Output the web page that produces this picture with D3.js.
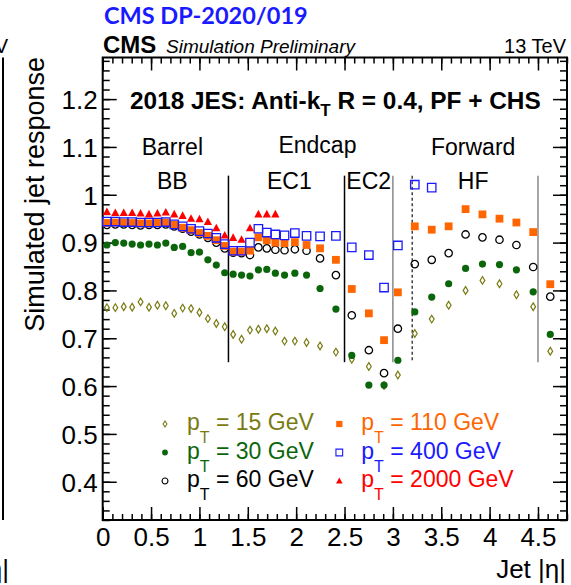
<!DOCTYPE html>
<html>
<head>
<meta charset="utf-8">
<script src="https://cdnjs.cloudflare.com/ajax/libs/d3/7.8.5/d3.min.js"></script>
<style>
  body { margin: 0; background: #fff; }
  svg { display: block; font-family: "Liberation Sans", Arial, sans-serif; }
</style>
</head>
<body>
<div class="canva"></div>
<script>
// eta bin centres (CMS tower binning)
const etaBins = [0.0435, 0.1305, 0.2175, 0.3045, 0.3915, 0.4785, 0.5655, 0.6525, 0.7395, 0.8265,
                 0.9135, 1.0005, 1.0875, 1.1745, 1.2615, 1.3485, 1.4355, 1.5225, 1.6095, 1.6965,
                 1.785, 1.88, 1.9865, 2.1075, 2.247, 2.411, 2.575, 2.7515, 2.9085, 3.0515,
                 3.2265, 3.4015, 3.5765, 3.7515, 3.926, 4.102, 4.277, 4.4505, 4.627];

// response per pT (null = no point)
const pt15 = [0.764, 0.764, 0.766, 0.765, 0.776, 0.765, 0.769, 0.768, 0.752, 0.763,
              0.762, 0.754, 0.741, 0.731, 0.724, 0.708, 0.698, 0.717, 0.719, 0.720,
              0.715, 0.694, 0.694, 0.691, 0.684, 0.671, 0.656, 0.641, 0.601, 0.623,
              0.710, 0.740, 0.769, 0.800, 0.821, 0.814, 0.791, 0.766, 0.673];
const pt30 = [0.895, 0.900, 0.899, 0.897, 0.895, 0.897, 0.895, 0.899, 0.890, 0.892,
              0.879, 0.880, 0.864, 0.853, 0.837, 0.834, 0.832, 0.830, 0.843, 0.844,
              0.836, 0.832, 0.836, 0.832, 0.804, 0.761, 0.664, 0.602, 0.602, 0.654,
              0.755, 0.786, 0.814, 0.846, 0.855, 0.854, 0.843, 0.797, 0.708];
const pt60 = [0.937, 0.938, 0.938, 0.937, 0.936, 0.937, 0.937, 0.938, 0.934, 0.929,
              0.923, 0.917, 0.910, 0.900, 0.888, 0.879, 0.878, 0.874, 0.890, 0.888,
              0.885, 0.884, 0.886, 0.883, 0.867, 0.832, 0.748, 0.675, 0.627, 0.720,
              0.855, 0.864, 0.878, 0.917, 0.911, 0.906, 0.895, 0.849, 0.787];
const pt110 = [0.941, 0.942, 0.942, 0.941, 0.940, 0.940, 0.941, 0.942, 0.937, 0.931,
               0.926, 0.920, 0.914, 0.905, 0.893, 0.881, 0.881, 0.883, 0.911, 0.905,
               0.900, 0.899, 0.901, 0.895, 0.888, 0.864, 0.803, 0.752, 0.696, 0.796,
               0.934, 0.927, 0.934, 0.970, 0.959, 0.950, 0.942, 0.922, 0.813];
const pt400 = [0.944, 0.944, 0.943, 0.943, 0.942, 0.942, 0.942, 0.943, 0.938, 0.934,
               0.929, 0.924, 0.919, 0.910, 0.897, 0.883, 0.883, 0.900, 0.929, 0.921,
               0.917, 0.915, 0.920, 0.914, 0.913, 0.914, 0.890, 0.874, 0.806, 0.894,
               1.021, 1.015, null, null, null, null, null, null, null];
const pt2000 = [0.964, 0.962, 0.962, 0.962, 0.961, 0.959, 0.961, 0.963, 0.959, 0.956,
                0.950, 0.949, 0.943, 0.930, 0.915, 0.910, 0.906, 0.930, 0.959, 0.959,
                0.959, null, null, null, null, null, null, null, null, null,
                null, null, null, null, null, null, null, null, null];

const ptLabels = ["15", "30", "60", "110", "400", "2000"];

const xTicks = [0, 0.5, 1, 1.5, 2, 2.5, 3, 3.5, 4, 4.5];
const xTickLabels = ["0", "0.5", "1", "1.5", "2", "2.5", "3", "3.5", "4", "4.5"];
const yTicks = [0.4, 0.5, 0.6, 0.7, 0.8, 0.9, 1.0, 1.1, 1.2];
const yTickLabels = ["0.4", "0.5", "0.6", "0.7", "0.8", "0.9", "1", "1.1", "1.2"];

// detector region boundaries and labels
const regionEdges = [1.3, 2.5, 3.0, 3.2, 4.5];
const regionNames = ["Barrel", "Endcap", "Forward"];
const subRegionNames = ["BB", "EC1", "EC2", "HF"];

const svg = d3.select(".canva").append("svg")
  .attr("width", 571)
  .attr("height", 585);

const frame = {left: 102.7, right: 567, top: 57.5, bottom: 520};

const x = d3.scaleLinear().domain([0, 4.8]).range([frame.left, frame.right]);
const y = d3.scaleLinear().domain([0.32, 1.287]).range([frame.bottom, frame.top]);

// bit of the neighbouring panel cut off on the left
svg.append("line").attr("x1", 3).attr("x2", 3).attr("y1", frame.top).attr("y2", frame.bottom)
  .attr("stroke", "#000").attr("stroke-width", 2);
svg.append("text").attr("x", 8).attr("y", 53).attr("text-anchor", "end")
  .style("font-size", "20px").text("13 TeV");
svg.append("text").attr("x", 9).attr("y", 578).attr("text-anchor", "end")
  .style("font-size", "26px").text("Jet |η|");

// header
svg.append("text").attr("x", 104).attr("y", 24)
  .style("font-family", "Lato, 'Open Sans', sans-serif").style("font-weight", "bold")
  .style("font-size", "23.5px").attr("fill", "#1a1aff").text("CMS DP-2020/019");
svg.append("text").attr("x", 103).attr("y", 53)
  .style("font-weight", "bold").style("font-size", "24px").text("CMS");
svg.append("text").attr("x", 166).attr("y", 53)
  .style("font-style", "italic").style("font-size", "19px").text("Simulation Preliminary");
svg.append("text").attr("x", 566).attr("y", 53).attr("text-anchor", "end")
  .style("font-size", "20px").text("13 TeV");

// axes: major + minor ticks on all four sides
function styleAxis(g) {
  g.attr("font-family", null).attr("font-size", null);
  g.select(".domain").remove();
  g.selectAll("line").attr("stroke", "#000").attr("stroke-width", 1.5);
}
const xMinor = d3.range(0, 4.85, 0.1);
const yMinor = d3.range(0.32, 1.29, 0.02);

svg.append("g").attr("transform", `translate(0,${frame.bottom})`)
  .call(d3.axisBottom(x).tickValues(xMinor).tickSize(-6).tickFormat(""))
  .call(styleAxis);
const gx = svg.append("g").attr("transform", `translate(0,${frame.bottom})`)
  .call(d3.axisBottom(x).tickValues(xTicks).tickSize(-13).tickFormat((d, i) => xTickLabels[i]))
  .call(styleAxis);
gx.selectAll("text").attr("dy", null).attr("y", 26).attr("fill", "#000").style("font-size", "26px");

svg.append("g").attr("transform", `translate(0,${frame.top})`)
  .call(d3.axisTop(x).tickValues(xMinor).tickSize(-6).tickFormat(""))
  .call(styleAxis);
svg.append("g").attr("transform", `translate(0,${frame.top})`)
  .call(d3.axisTop(x).tickValues(xTicks).tickSize(-13).tickFormat(""))
  .call(styleAxis);

svg.append("g").attr("transform", `translate(${frame.left},0)`)
  .call(d3.axisLeft(y).tickValues(yMinor).tickSize(-7).tickFormat(""))
  .call(styleAxis);
const gy = svg.append("g").attr("transform", `translate(${frame.left},0)`)
  .call(d3.axisLeft(y).tickValues(yTicks).tickSize(-14).tickFormat((d, i) => yTickLabels[i]))
  .call(styleAxis);
gy.selectAll("text").attr("x", -5).attr("dy", "0.36em").attr("fill", "#000").style("font-size", "26px");

svg.append("g").attr("transform", `translate(${frame.right},0)`)
  .call(d3.axisRight(y).tickValues(yMinor).tickSize(-7).tickFormat(""))
  .call(styleAxis);
svg.append("g").attr("transform", `translate(${frame.right},0)`)
  .call(d3.axisRight(y).tickValues(yTicks).tickSize(-14).tickFormat(""))
  .call(styleAxis);

svg.append("rect")
  .attr("x", frame.left).attr("y", frame.top)
  .attr("width", frame.right - frame.left).attr("height", frame.bottom - frame.top)
  .attr("fill", "none").attr("stroke", "#000").attr("stroke-width", 2);

// axis titles
svg.append("text").attr("x", 566).attr("y", 578).attr("text-anchor", "end")
  .style("font-size", "26px").text("Jet |η|");
svg.append("text")
  .attr("transform", "translate(44,57) rotate(-90)")
  .attr("text-anchor", "end")
  .style("font-size", "27px")
  .text("Simulated jet response");

// title inside the frame
const title = svg.append("text").attr("x", 130).attr("y", 109)
  .style("font-weight", "bold").style("font-size", "24.4px");
title.append("tspan").text("2018 JES: Anti-k");
title.append("tspan").attr("dy", 7).style("font-size", "17px").text("T");
title.append("tspan").attr("dy", -7).text(" R = 0.4, PF + CHS");

// region boundaries
const lineStyle = {
  1.3: {color: "#000", dash: null},
  2.5: {color: "#000", dash: null},
  3.0: {color: "#888", dash: null},
  3.2: {color: "#444", dash: "3,2.5"},
  4.5: {color: "#888", dash: null}
};
svg.append("g").selectAll("line").data(regionEdges).join("line")
  .attr("x1", d => x(d)).attr("x2", d => x(d))
  .attr("y1", y(1.04)).attr("y2", y(0.65))
  .attr("stroke", d => lineStyle[d].color)
  .attr("stroke-width", 1.5)
  .attr("stroke-dasharray", d => lineStyle[d].dash);

// region labels (centre eta, row)
const regionPos = [0.72, 2.22, 3.83];
const subRegionPos = [0.72, 1.93, 2.75, 3.83];
svg.append("g").selectAll("text").data(regionNames).join("text")
  .attr("x", (d, i) => x(regionPos[i])).attr("y", (d, i) => i === 1 ? 153 : 155)
  .attr("text-anchor", "middle").style("font-size", "23px").text(d => d);
svg.append("g").selectAll("text").data(subRegionNames).join("text")
  .attr("x", (d, i) => x(subRegionPos[i])).attr("y", 189)
  .attr("text-anchor", "middle").style("font-size", "23px").text(d => d);

// marker shapes
const shapes = {
  diamond: s => `M0,${-1.6 * s}L${s},0L0,${1.6 * s}L${-s},0Z`,
  circle: s => `M${s},0A${s},${s} 0 1 1 ${-s},0A${s},${s} 0 1 1 ${s},0Z`,
  square: s => `M${-s},${-s}H${s}V${s}H${-s}Z`,
  triangle: s => `M0,${-1.1 * s}L${s},${0.75 * s}L${-s},${0.75 * s}Z`
};

const series = [
  {vals: pt15, color: "#7a7a12", shape: "diamond", size: 2.4, fill: false},
  {vals: pt30, color: "#0b660b", shape: "circle", size: 3.6, fill: true},
  {vals: pt60, color: "#000", shape: "circle", size: 3.7, fill: false},
  {vals: pt110, color: "#ff6600", shape: "square", size: 3.9, fill: true},
  {vals: pt400, color: "#1a1aff", shape: "square", size: 4.2, fill: false},
  {vals: pt2000, color: "#ff0000", shape: "triangle", size: 4.1, fill: true}
];

series.forEach(s => {
  const pts = etaBins.map((e, i) => ({e: e, v: s.vals[i]})).filter(d => d.v != null);
  svg.append("g").selectAll("path").data(pts).join("path")
    .attr("transform", d => `translate(${x(d.e)},${y(d.v)})`)
    .attr("d", shapes[s.shape](s.size))
    .attr("fill", s.fill ? s.color : "none")
    .attr("stroke", s.fill ? "none" : s.color)
    .attr("stroke-width", s.shape === "diamond" ? 1.2 : 1.3);
});

// legend
const legendCols = [165, 339.3];
const legendRows = [424, 452.5, 481];
series.forEach((s, i) => {
  const col = Math.floor(i / 3), row = i % 3;
  const mx = legendCols[col], my = legendRows[row];
  svg.append("path")
    .attr("transform", `translate(${mx},${my})`)
    .attr("d", shapes[s.shape](s.size * 0.8))
    .attr("fill", s.fill ? s.color : "none")
    .attr("stroke", s.fill ? "none" : s.color)
    .attr("stroke-width", 1.1);
  const t = svg.append("text").attr("x", mx + 22).attr("y", my + 6)
    .attr("fill", s.color).style("font-size", "23px");
  t.append("tspan").text("p");
  t.append("tspan").attr("dy", 13).style("font-size", "16px").text("T");
  t.append("tspan").attr("dy", -13).text(` = ${ptLabels[i]} GeV`);
});
</script>
</body>
</html>
